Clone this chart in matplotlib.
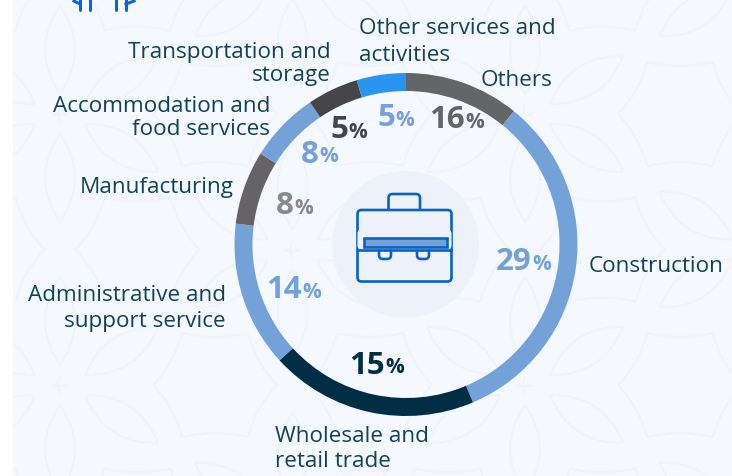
#!/usr/bin/env python3
import matplotlib
matplotlib.use('Agg')
import matplotlib.pyplot as plt
from matplotlib.patches import Circle, FancyBboxPatch, Rectangle, PathPatch
from matplotlib.path import Path

# ring segments, clockwise from the top
categories = ['Others', 'Construction', 'Wholesale and retail trade', 'Administrative and support service',
              'Manufacturing', 'Accommodation and food services', 'Transportation and storage',
              'Other services and activities']
percents = [16, 29, 15, 14, 8, 8, 5, 5]
# the ring is not drawn to scale, so the arc lengths are read off the picture (degrees)
arc_spans = [39, 118, 70.5, 49.5, 25, 24, 17.3, 16.7]
ring_colors = ['#646567', '#74a2d8', '#012e45', '#74a2d8', '#656365', '#74a2d8', '#454547', '#2a94ee']
pct_colors = ['#646567', '#74a2d8', '#012e45', '#74a2d8', '#8a888a', '#74a2d8', '#454547', '#74a2d8']

label_texts = ['Other services and\nactivities', 'Others', 'Transportation and\nstorage',
               'Accommodation and\nfood services', 'Manufacturing', 'Administrative and\nsupport service',
               'Wholesale and\nretail trade', 'Construction']
label_x = [359, 552, 331, 270, 234, 226, 275, 589]
label_y = [42, 80, 64, 118, 188, 308.5, 449, 266]
label_ha = ['left', 'right', 'right', 'right', 'right', 'right', 'left', 'left']
label_spacing = [1.36, 1.2, 1.18, 1.15, 1.2, 1.36, 1.22, 1.2]

# right edge of the number and its vertical centre
pct_x = [465, 532, 385, 302, 294, 319, 348, 395]
pct_y = [120, 262, 366, 290, 206, 155, 130, 118]

FONT = 'Open Sans'
TEXT_COL = '#134257'
W, H = 732, 477
PATTERN = '#f0f4f8'


def Y(y):
    return H - y


def curve(ax, p0, p1, bulge):
    # quadratic curve with control point shifted sideways by bulge
    mx, my = (p0[0] + p1[0]) / 2, (p0[1] + p1[1]) / 2
    dx, dy = p1[0] - p0[0], p1[1] - p0[1]
    n = (dx * dx + dy * dy) ** 0.5
    c = (mx - dy / n * bulge, my + dx / n * bulge)
    path = Path([(p0[0], Y(p0[1])), (c[0], Y(c[1])), (p1[0], Y(p1[1]))], [Path.MOVETO, Path.CURVE3, Path.CURVE3])
    ax.add_patch(PathPatch(path, fc='none', ec=PATTERN, lw=1.6))


def petal(ax, p0, p1):
    curve(ax, p0, p1, 30)
    curve(ax, p0, p1, -30)


def pattern(ax):
    for j in range(-1, 4):
        y = 115 + 135.5 * j
        x0 = 60 if (j % 2) == 0 else 292.5
        for i in range(-1, 3):
            x = x0 + 465 * i
            # petals around the star
            for sy in (-1, 1):
                petal(ax, (x, y + sy * 20), (x, y + sy * 108))
                for sx in (-1, 1):
                    petal(ax, (x + sx * 25, y + sy * 10), (x + sx * 98, y + sy * 58))
            # small star
            for a, b in [((-8, 0), (8, 0)), ((0, -9), (0, 9))]:
                curve(ax, (x + a[0], y + a[1]), (x + b[0], y + b[1]), 3)
            # concave six-pointed shapes either side
            for cx in (x - 155, x + 155):
                pts = [(-62, 0), (-33, -52), (33, -52), (62, 0), (33, 52), (-33, 52)]
                for k in range(6):
                    a, b = pts[k], pts[(k + 1) % 6]
                    curve(ax, (cx + a[0], y + a[1]), (cx + b[0], y + b[1]), 8)


def briefcase(ax):
    blue = '#0a62c4'
    fill = '#edf1f9'
    ax.add_patch(Circle((405.5, Y(245.5)), 73.5, fc=fill, ec='none'))
    ax.add_patch(FancyBboxPatch((388.5, Y(222)), 31.5, 27, boxstyle='round,pad=0,rounding_size=4', fc='none', ec=blue, lw=1.9))
    ax.add_patch(FancyBboxPatch((357.5, Y(282.5)), 94, 71.5, boxstyle='round,pad=0,rounding_size=4', fc=fill, ec=blue, lw=1.9))
    for x in [379, 417]:
        ax.add_patch(FancyBboxPatch((x, Y(260)), 12, 14, boxstyle='round,pad=0,rounding_size=4', fc=fill, ec=blue, lw=1.9))
    ax.add_patch(FancyBboxPatch((357.5, Y(250.5)), 94, 20, boxstyle='round,pad=0,rounding_size=4', fc=fill, ec='none'))
    ax.plot([358, 451], [Y(250.5), Y(250.5)], color=blue, lw=1.9)
    ax.add_patch(Rectangle((363.5, Y(247.5)), 83, 8.5, fc='#74a2d8', ec=blue, lw=1.9))


def main():
    fig = plt.figure(figsize=(W / 100, H / 100), dpi=100)
    ax = fig.add_axes([0, 0, 1, 1])
    fig.patch.set_facecolor('white')
    ax.add_patch(Rectangle((13, 0), W - 13, H, fc='#f5f9fe', ec='none'))
    pattern(ax)
    # keep the pattern off the white strip
    ax.add_patch(Rectangle((0, 0), 13, H, fc='white', ec='none', zorder=1.5))

    # top icon fragments
    for x in [80, 90, 116, 126]:
        ax.plot([x, x], [Y(-2), Y(11)], color='#0d66c8', lw=2.2, solid_capstyle='round')
    ax.plot([74, 80], [Y(2), Y(5)], color='#0d66c8', lw=2.2)
    ax.plot([126, 134], [Y(5), Y(2)], color='#0d66c8', lw=2.2)

    # ring
    wedges, _ = ax.pie(arc_spans, colors=ring_colors, startangle=90, counterclock=False, center=(406, Y(245.5)),
                       radius=171.5, frame=True, wedgeprops=dict(width=18, linewidth=0))
    for w in wedges:
        w.set_zorder(2)

    briefcase(ax)

    for t, x, y, ha, sp in zip(label_texts, label_x, label_y, label_ha, label_spacing):
        ax.text(x, Y(y), t, ha=ha, va='center', fontsize=16.2, family=FONT, color=TEXT_COL, linespacing=sp)

    # percentages: big bold number with a smaller % sign
    for p, x, y, c in zip(percents, pct_x, pct_y, pct_colors):
        ax.text(x, Y(y), str(p), ha='right', va='center', fontsize=22.5, fontweight='bold', family=FONT, color=c)
        ax.text(x, Y(y + 2), '%', ha='left', va='center', fontsize=15, fontweight='bold', family=FONT, color=c)

    ax.set_xlim(0, W)
    ax.set_ylim(0, H)
    ax.set_aspect('auto')
    ax.axis('off')
    fig.savefig('out.png', dpi=100)


if __name__ == '__main__':
    main()
